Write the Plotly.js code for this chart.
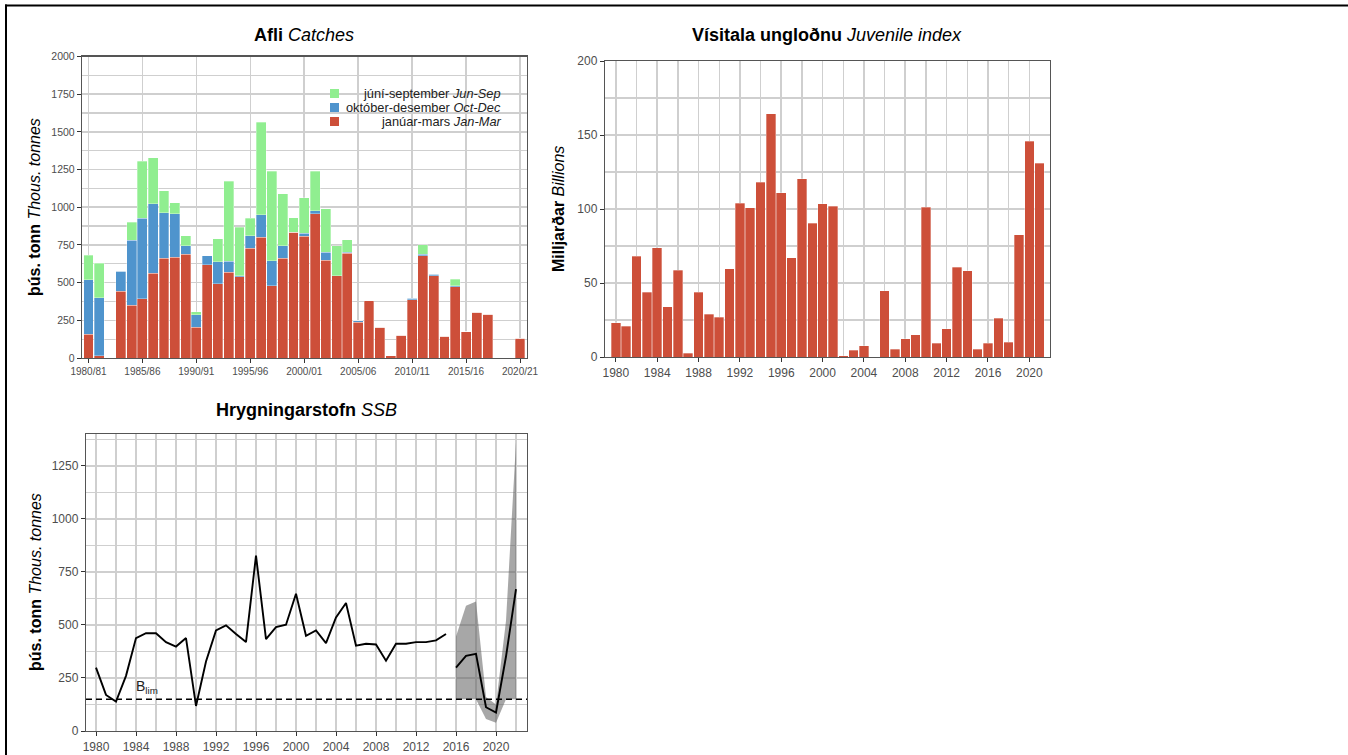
<!DOCTYPE html>
<html>
<head>
<meta charset="utf-8">
<script src="https://cdn.plot.ly/plotly-3.0.1.min.js"></script>
<style>
  html, body { margin: 0; padding: 0; background: #ffffff; }
  #chart { width: 1348px; height: 755px; }
</style>
</head>
<body>
<div id="chart"></div>
<script>
// ---- Capelin catches by season (thousand tonnes) ----
const seasons = ['1980/81','1981/82','1982/83','1983/84','1984/85','1985/86','1986/87','1987/88','1988/89','1989/90',
  '1990/91','1991/92','1992/93','1993/94','1994/95','1995/96','1996/97','1997/98','1998/99','1999/00',
  '2000/01','2001/02','2002/03','2003/04','2004/05','2005/06','2006/07','2007/08','2008/09','2009/10',
  '2010/11','2011/12','2012/13','2013/14','2014/15','2015/16','2016/17','2017/18','2018/19','2019/20','2020/21'];
const seasonTicks = ['1980/81','1985/86','1990/91','1995/96','2000/01','2005/06','2010/11','2015/16','2020/21'];
const catchJanMar = [156,15,0,443,350,392,562,663,667,689,205,620,493,568,540,727,802,480,661,833,
  808,958,650,544,694,236,379,205,15,152,388,678,544,143,474,174,302,291,0,0,130];
const catchOctDec = [362,386,0,134,430,535,462,299,289,55,81,58,146,75,4,83,149,165,83,0,
  18,20,50,0,9,11,0,0,0,0,8,9,11,0,6,0,0,0,0,0,0];
const catchJunSep = [165,229,0,0,121,377,304,146,75,67,22,0,151,529,322,117,613,593,346,99,
  238,262,291,200,83,0,0,0,0,0,0,64,0,0,42,0,0,0,0,0,0];

// ---- Juvenile index (billions) ----
const juvYears = [];
for (let y = 1980; y <= 2021; y++) juvYears.push(y);
const juvIndex = [23.2,20.9,68,43.9,73.9,33.8,58.6,2.7,43.9,28.8,
  27.0,59.7,104,100.7,118.2,164.4,111,66.9,120.3,90.3,
  103.6,102,0.9,4.5,7.7,0,44.8,5.4,12.4,15.1,
  101.3,9.2,19.1,60.8,58.3,5.2,9.2,26.1,9.9,82.6,
  145.9,130.8];

// ---- Spawning stock biomass (thousand tonnes) ----
const ssbYears = [];
for (let y = 1980; y <= 2015; y++) ssbYears.push(y);
const ssb = [299,170,139,260,438,461,461,419,398,438,
  118,328,474,498,457,419,827,433,490,501,
  647,449,474,414,535,603,402,411,408,331,
  411,411,419,419,427,457];
const ssbRecentYears = [2016,2017,2018,2019,2020,2021,2022];
const ssbRecent = [299,354,364,112,87,351,669];
const ssbLow = [150,150,150,57,39,150,150];
const ssbHigh = [445,590,610,160,125,520,1360];
const BLIM = 150;

// ---- styling ----
const RED = '#CD4F39', BLUE = '#4F94CD', GREEN = '#90EE90';
const W = 1348, H = 755;
const FONT = 'Liberation Sans, Arial, sans-serif';
const TICKCOL = '#4d4d4d';
const GRID = '#cfcfcf';
const px = v => v / W;
const py = v => 1 - v / H;

const barLine = {color: 'rgba(255,255,255,0.45)', width: 0.7};

const traces = [
  {type: 'bar', x: seasons, y: catchJanMar, name: 'janúar-mars Jan-Mar', marker: {color: RED, line: barLine}, xaxis: 'x', yaxis: 'y'},
  {type: 'bar', x: seasons, y: catchOctDec, name: 'október-desember Oct-Dec', marker: {color: BLUE, line: barLine}, xaxis: 'x', yaxis: 'y'},
  {type: 'bar', x: seasons, y: catchJunSep, name: 'júní-september Jun-Sep', marker: {color: GREEN, line: barLine}, xaxis: 'x', yaxis: 'y'},
  {type: 'bar', x: juvYears, y: juvIndex, name: 'Juvenile index', marker: {color: RED, line: barLine}, xaxis: 'x2', yaxis: 'y2'},
  {type: 'scatter', mode: 'lines',
    x: ssbRecentYears.concat(ssbRecentYears.slice().reverse()),
    y: ssbHigh.concat(ssbLow.slice().reverse()),
    fill: 'toself', fillcolor: 'rgba(95,95,95,0.55)', line: {width: 0, color: 'rgba(0,0,0,0)'},
    hoverinfo: 'skip', xaxis: 'x3', yaxis: 'y3'},
  {type: 'scatter', mode: 'lines', x: ssbYears, y: ssb, line: {color: '#000000', width: 1.9}, xaxis: 'x3', yaxis: 'y3'},
  {type: 'scatter', mode: 'lines', x: ssbRecentYears, y: ssbRecent, line: {color: '#000000', width: 1.9}, xaxis: 'x3', yaxis: 'y3'}
];

const axisBase = {
  showline: true, mirror: true, linecolor: '#555555', linewidth: 1.2,
  ticks: 'outside', ticklen: 4, tickwidth: 1, tickcolor: '#333333',
  showgrid: true, gridcolor: GRID, gridwidth: 1.6, zeroline: false,
  tickfont: {family: FONT, size: 12, color: TICKCOL}, fixedrange: true
};
const minorGrid = d => ({dtick: d, showgrid: true, gridcolor: GRID, gridwidth: 1.3, ticks: ''});

const layout = {
  width: W, height: H, margin: {l: 0, r: 0, t: 0, b: 0},
  paper_bgcolor: '#ffffff', plot_bgcolor: '#ffffff',
  showlegend: false, barmode: 'stack', bargap: 0.08,
  font: {family: FONT},
  xaxis: Object.assign({}, axisBase, {
    domain: [px(82), px(526.5)], anchor: 'y', type: 'category', range: [-0.6, 40.6],
    tickmode: 'array', tickvals: seasonTicks, ticktext: seasonTicks,
    tickfont: {family: FONT, size: 10, color: TICKCOL}
  }),
  yaxis: Object.assign({}, axisBase, {
    domain: [py(358), py(56.5)], anchor: 'x', range: [0, 2000], tick0: 0, dtick: 250,
    minor: minorGrid(125), tickfont: {family: FONT, size: 10.5, color: TICKCOL}
  }),
  xaxis2: Object.assign({}, axisBase, {
    domain: [px(605), px(1050)], anchor: 'y2', range: [1978.95, 2022.0], tick0: 1980, dtick: 4,
    minor: minorGrid(2)
  }),
  yaxis2: Object.assign({}, axisBase, {
    domain: [py(357), py(61)], anchor: 'x2', range: [0, 200], tick0: 0, dtick: 50,
    minor: minorGrid(25)
  }),
  xaxis3: Object.assign({}, axisBase, {
    domain: [px(86), px(527)], anchor: 'y3', range: [1979.0, 2023.1], tick0: 1980, dtick: 4,
    minor: minorGrid(2)
  }),
  yaxis3: Object.assign({}, axisBase, {
    domain: [py(731), py(434)], anchor: 'x3', range: [0, 1400], tick0: 0, dtick: 250,
    minor: minorGrid(125)
  }),
  shapes: [
    // outer frame lines
    {type: 'line', xref: 'paper', yref: 'paper', x0: px(5), x1: px(1348), y0: py(5.5), y1: py(5.5), line: {color: '#000', width: 2}},
    {type: 'line', xref: 'paper', yref: 'paper', x0: px(6), x1: px(6), y0: py(4.5), y1: py(755), line: {color: '#000', width: 2}},
    // Blim reference line
    {type: 'line', xref: 'x3 domain', yref: 'y3', x0: 0, x1: 1, y0: BLIM, y1: BLIM, line: {color: '#000', width: 1.4, dash: '6px,4px'}},
    // catch legend keys
    {type: 'rect', xref: 'paper', yref: 'paper', x0: px(330), x1: px(339), y0: py(98), y1: py(89), fillcolor: GREEN, line: {width: 0}},
    {type: 'rect', xref: 'paper', yref: 'paper', x0: px(330), x1: px(339), y0: py(112), y1: py(103), fillcolor: BLUE, line: {width: 0}},
    {type: 'rect', xref: 'paper', yref: 'paper', x0: px(330), x1: px(339), y0: py(126), y1: py(117), fillcolor: RED, line: {width: 0}}
  ],
  annotations: [
    {xref: 'paper', yref: 'paper', x: px(304), y: py(35), xanchor: 'center', yanchor: 'middle', showarrow: false,
      text: '<b>Afli</b> <i>Catches</i>', font: {family: FONT, size: 18, color: '#000'}},
    {xref: 'paper', yref: 'paper', x: px(827), y: py(35), xanchor: 'center', yanchor: 'middle', showarrow: false,
      text: '<b>Vísitala ungloðnu</b> <i>Juvenile index</i>', font: {family: FONT, size: 18, color: '#000'}},
    {xref: 'paper', yref: 'paper', x: px(306), y: py(410), xanchor: 'center', yanchor: 'middle', showarrow: false,
      text: '<b>Hrygningarstofn</b> <i>SSB</i>', font: {family: FONT, size: 18, color: '#000'}},
    {xref: 'paper', yref: 'paper', x: px(35), y: py(207), xanchor: 'center', yanchor: 'middle', showarrow: false, textangle: -90,
      text: '<b>þús. tonn</b> <i>Thous. tonnes</i>', font: {family: FONT, size: 16, color: '#000'}},
    {xref: 'paper', yref: 'paper', x: px(558), y: py(209), xanchor: 'center', yanchor: 'middle', showarrow: false, textangle: -90,
      text: '<b>Milljarðar</b> <i>Billions</i>', font: {family: FONT, size: 16, color: '#000'}},
    {xref: 'paper', yref: 'paper', x: px(35), y: py(582), xanchor: 'center', yanchor: 'middle', showarrow: false, textangle: -90,
      text: '<b>þús. tonn</b> <i>Thous. tonnes</i>', font: {family: FONT, size: 16, color: '#000'}},
    {xref: 'paper', yref: 'paper', x: px(503), y: py(93.5), xanchor: 'right', yanchor: 'middle', showarrow: false,
      text: 'júní-september <i>Jun-Sep</i>', font: {family: FONT, size: 12.8, color: '#222'}},
    {xref: 'paper', yref: 'paper', x: px(503), y: py(107.5), xanchor: 'right', yanchor: 'middle', showarrow: false,
      text: 'október-desember <i>Oct-Dec</i>', font: {family: FONT, size: 12.8, color: '#222'}},
    {xref: 'paper', yref: 'paper', x: px(503), y: py(121.5), xanchor: 'right', yanchor: 'middle', showarrow: false,
      text: 'janúar-mars <i>Jan-Mar</i>', font: {family: FONT, size: 12.8, color: '#222'}},
    {xref: 'x3', yref: 'y3', x: 1983.8, y: BLIM, xanchor: 'left', yanchor: 'bottom', yshift: 1, showarrow: false,
      text: 'B<sub>lim</sub>', font: {family: FONT, size: 14, color: '#222'}}
  ]
};

Plotly.newPlot('chart', traces, layout, {displayModeBar: false, staticPlot: true});
</script>
</body>
</html>
